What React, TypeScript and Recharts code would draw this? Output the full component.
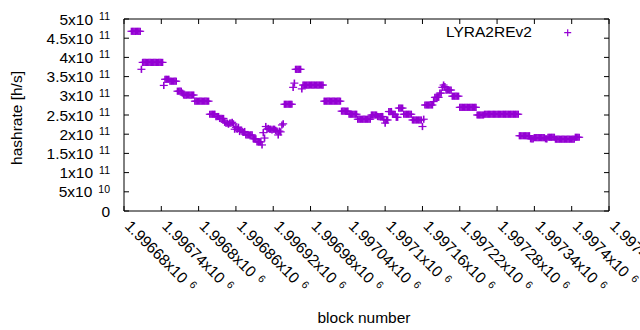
import React from 'react';
import { ScatterChart, Scatter, XAxis, YAxis, ReferenceLine, Legend } from 'recharts';

const firstBlock = 1996692;
const blockStep = 2;
// hashrate in units of 10^11 h/s, one reading every blockStep blocks
const hashrate = [
  4.68, 4.68, 4.68, 4.68, 4.68, 4.68, 4.68, 4.68,
  3.69,
  3.87, 3.87, 3.87, 3.87, 3.87, 3.87, 3.87, 3.87, 3.87, 3.87, 3.87, 3.87, 3.87, 3.87, 3.87, 3.87, 3.87,
  3.27,
  3.43, 3.43, 3.43, 3.43,
  3.38, 3.38, 3.38, 3.38, 3.38, 3.38,
  3.12, 3.12, 3.12, 3.12,
  3.07,
  3.02, 3.02, 3.02, 3.02, 3.02, 3.02, 3.02, 3.02, 3.02,
  2.86, 2.86, 2.86, 2.86, 2.86, 2.86, 2.86, 2.86, 2.86, 2.86, 2.86, 2.86,
  2.52, 2.52, 2.52, 2.52, 2.52,
  2.46, 2.46, 2.46,
  2.41, 2.41, 2.41, 2.41,
  2.31, 2.29, 2.29, 2.26, 2.29, 2.29, 2.31, 2.27,
  2.13, 2.18, 2.13, 2.18,
  2.07, 2.11, 2.07, 2.05, 2.07,
  1.98, 1.98, 1.98, 1.98, 1.98, 1.98,
  1.88, 1.88, 1.88,
  1.8, 1.8, 1.8, 1.8,
  1.72,
  2.04,
  1.9,
  2.2, 2.13, 2.15, 2.13, 2.13, 2.11, 2.13, 2.13, 2.1,
  2.08, 1.98, 2.08, 2.06,
  2.24, 2.27,
  2.78, 2.78, 2.78, 2.78, 2.78, 2.78, 2.78,
  3.22,
  3.33,
  3.69, 3.69, 3.69, 3.69, 3.69,
  3.18,
  3.28, 3.28, 3.28, 3.28, 3.28, 3.28, 3.28, 3.28, 3.28, 3.28, 3.28, 3.28, 3.28, 3.28, 3.28, 3.28, 3.28,
  2.86, 2.86, 2.86, 2.86, 2.86, 2.86, 2.86, 2.86, 2.86, 2.86, 2.86, 2.86, 2.86, 2.86,
  2.6, 2.6, 2.6, 2.6, 2.6, 2.6,
  2.52, 2.52, 2.52, 2.52, 2.52, 2.52, 2.52,
  2.39, 2.39, 2.39, 2.39, 2.39, 2.39, 2.39, 2.39, 2.39, 2.39, 2.39,
  2.5, 2.5, 2.5, 2.5, 2.5,
  2.46, 2.46, 2.46, 2.46, 2.46,
  2.37, 2.29, 2.37, 2.37,
  2.59, 2.59, 2.59,
  2.52, 2.52, 2.52,
  2.44, 2.44,
  2.68, 2.68, 2.68, 2.68,
  2.52, 2.52, 2.52, 2.52, 2.52, 2.52, 2.52,
  2.37, 2.37, 2.37, 2.37, 2.37, 2.37, 2.37, 2.37,
  2.2,
  2.39,
  2.76, 2.76, 2.76, 2.76, 2.76, 2.76, 2.76,
  2.85,
  2.96, 2.96, 2.96, 2.96,
  3.07, 3.07,
  3.22, 3.28, 3.24,
  3.15, 3.15, 3.15, 3.15, 3.15,
  2.99, 2.99, 2.99, 2.99, 2.99, 2.99,
  2.7, 2.7, 2.7, 2.7, 2.7, 2.7, 2.7, 2.7, 2.7, 2.7, 2.7, 2.7, 2.7, 2.7,
  2.5, 2.5, 2.5, 2.5, 2.5, 2.5,
  2.52, 2.52, 2.52, 2.52, 2.52, 2.52, 2.52, 2.52, 2.52, 2.52, 2.52, 2.52, 2.52, 2.52,
  2.52, 2.52, 2.52, 2.52, 2.52, 2.52, 2.52, 2.52, 2.52, 2.52, 2.52, 2.52, 2.52, 2.52,
  1.96, 1.96, 1.96, 1.96, 1.96, 1.96, 1.96, 1.96, 1.96,
  1.88, 1.88, 1.88,
  1.91, 1.91, 1.91, 1.91, 1.91, 1.91, 1.91, 1.91, 1.91,
  1.88, 1.88,
  1.92, 1.92, 1.92, 1.92, 1.92, 1.92,
  1.87, 1.87, 1.87, 1.87, 1.87, 1.87, 1.87, 1.87, 1.87, 1.87, 1.87, 1.87, 1.87, 1.87, 1.87, 1.87,
  1.92, 1.92, 1.92, 1.92,
];

const xTicks = [
  1996680, 1996740, 1996800, 1996860, 1996920, 1996980, 1997040,
  1997100, 1997160, 1997220, 1997280, 1997340, 1997400, 1997460,
];
const xTickLabels = [
  '1.99668', '1.99674', '1.9968', '1.99686', '1.99692', '1.99698', '1.99704',
  '1.9971', '1.99716', '1.99722', '1.99728', '1.99734', '1.9974', '1.99746',
];
const xTickExp = '6';

const yTicks = [0, 5e10, 1e11, 1.5e11, 2e11, 2.5e11, 3e11, 3.5e11, 4e11, 4.5e11, 5e11];
const yTickLabels = ['0', '5', '1', '1.5', '2', '2.5', '3', '3.5', '4', '4.5', '5'];
const yTickExps = ['', '10', '11', '11', '11', '11', '11', '11', '11', '11', '11'];

const data = hashrate.map((v, i) => ({ block: firstBlock + i * blockStep, hashrate: v * 1e11 }));

const COLOR = '#9400d3';
const FONT = '"Liberation Sans", Arial, sans-serif';
const PLOT_TOP = 19;
const PLOT_RIGHT = 609;

// gnuplot style "+" point
const Plus = (props: any) => {
  const { cx, cy } = props;
  if (cx == null || cy == null) return null;
  return (
    <g stroke={COLOR} fill="none">
      <path d={`M${cx - 4},${cy}h8`} strokeWidth={1.2} />
      <path d={`M${cx},${cy - 3.6}v7.2`} strokeWidth={1.6} />
    </g>
  );
};

const XTick = (props: any) => {
  const { x, y, payload } = props;
  const i = xTicks.indexOf(payload.value);
  return (
    <g>
      <line x1={x} y1={y} x2={x} y2={y - 5} stroke="#000" />
      <line x1={x} y1={PLOT_TOP} x2={x} y2={PLOT_TOP + 5} stroke="#000" />
      <text
        transform={`translate(${x},${y + 16}) rotate(45)`}
        fontSize={15.5}
        fontFamily={FONT}
        fill="#000"
        textAnchor="start"
      >
        {xTickLabels[i]}x10
        <tspan dx={6} dy={-4.6} fontSize={10.5}>{xTickExp}</tspan>
      </text>
    </g>
  );
};

const YTick = (props: any) => {
  const { x, y, payload } = props;
  const i = yTicks.indexOf(payload.value);
  const exp = yTickExps[i];
  return (
    <g>
      <line x1={x} y1={y} x2={x + 5} y2={y} stroke="#000" />
      <line x1={PLOT_RIGHT - 5} y1={y} x2={PLOT_RIGHT} y2={y} stroke="#000" />
      <text x={110} y={y + 5.5} fontSize={15.5} fontFamily={FONT} fill="#000" textAnchor="end">
        {exp ? `${yTickLabels[i]}x10` : yTickLabels[i]}
        {exp ? <tspan dx={6} dy={-4.6} fontSize={10.5}>{exp}</tspan> : null}
      </text>
    </g>
  );
};

const YTitle = () => (
  <text
    x={21.5}
    y={118}
    transform="rotate(-90 21.5 118)"
    textAnchor="middle"
    fontSize={15.5}
    fontFamily={FONT}
    fill="#000"
  >
    hashrate [h/s]
  </text>
);

const XTitle = () => (
  <text x={364} y={322.5} textAnchor="middle" fontSize={15.5} fontFamily={FONT} fill="#000">
    block number
  </text>
);

const renderLegend = () => (
  <svg width={160} height={25} style={{ display: 'block' }}>
    <text x={6} y={17.3} fontSize={15.5} fontFamily={FONT} fill="#000">
      LYRA2REv2
    </text>
    <path d="M124.2,12.7h7M127.7,9.2v7" stroke={COLOR} strokeWidth={1.2} fill="none" />
  </svg>
);

export default function App() {
  return (
    <div style={{ position: 'absolute', left: 0, top: 0, width: 640, height: 330, background: '#fff', overflow: 'hidden' }}>
      <ScatterChart width={640} height={330} margin={{ top: PLOT_TOP, right: 640 - PLOT_RIGHT, bottom: 0, left: 0 }}>
        <XAxis
          type="number"
          dataKey="block"
          domain={[1996680, 1997460]}
          ticks={xTicks}
          interval={0}
          allowDataOverflow
          height={119}
          tickSize={0}
          tickMargin={0}
          tickLine={false}
          axisLine={{ stroke: '#000' }}
          tick={(p: any) => <XTick {...p} />}
          label={<XTitle />}
        />
        <YAxis
          type="number"
          dataKey="hashrate"
          domain={[0, 5e11]}
          ticks={yTicks}
          interval={0}
          allowDataOverflow
          width={124}
          tickSize={0}
          tickMargin={0}
          tickLine={false}
          axisLine={{ stroke: '#000' }}
          tick={(p: any) => <YTick {...p} />}
          label={<YTitle />}
        />
        <ReferenceLine y={5e11} stroke="#000" />
        <ReferenceLine x={1997460} stroke="#000" />
        <Legend
          layout="horizontal"
          align="center"
          verticalAlign="middle"
          wrapperStyle={{ position: 'absolute', left: 440, top: 20, width: 160, height: 25 }}
          content={renderLegend}
        />
        <Scatter name="LYRA2REv2" data={data} fill={COLOR} shape={Plus} isAnimationActive={false} />
      </ScatterChart>
    </div>
  );
}
